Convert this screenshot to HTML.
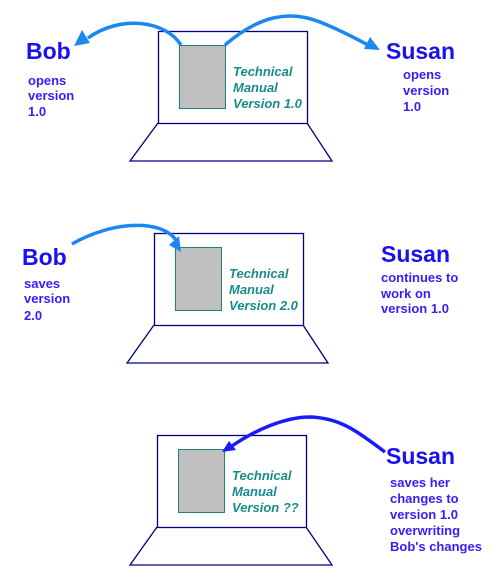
<!DOCTYPE html>
<html><head><meta charset="utf-8"><style>
html,body{margin:0;padding:0;background:#fff;}
svg{display:block;}
.big{font-family:"Liberation Sans",sans-serif;font-weight:bold;font-size:23px;fill:#1a10f0;}
.sm{font-family:"Liberation Sans",sans-serif;font-weight:bold;font-size:13px;fill:#3a1aff;}
.doc{font-family:"Liberation Sans",sans-serif;font-weight:bold;font-style:italic;font-size:13px;fill:#1a8a8a;}
</style></head><body>
<svg width="501" height="585" viewBox="0 0 501 585" xmlns="http://www.w3.org/2000/svg">
<g fill="none" stroke="#000080" stroke-width="1.3">
<rect x="158.5" y="31.5" width="149" height="92"/>
<polyline points="158,123 130,161 332,161 307,123"/>
<rect x="154.5" y="233.5" width="149" height="92"/>
<polyline points="154,325 127,363 328,363 303,325"/>
<rect x="157.5" y="435.5" width="149" height="92"/>
<polyline points="157,527 130,565 332,565 306,527"/>
</g>
<g fill="#c0c0c0" stroke="#1a8080" stroke-width="1">
<rect x="179.5" y="45.5" width="46" height="63"/>
<rect x="175.5" y="247.5" width="46" height="63"/>
<rect x="178.5" y="449.5" width="46" height="63"/>
</g>
<g class="doc">
<text x="233" y="76" class="doc">Technical</text>
<text x="233" y="92" class="doc">Manual</text>
<text x="233" y="108" class="doc">Version 1.0</text>
<text x="229" y="278" class="doc">Technical</text>
<text x="229" y="294" class="doc">Manual</text>
<text x="229" y="310" class="doc">Version 2.0</text>
<text x="232" y="480" class="doc">Technical</text>
<text x="232" y="496" class="doc">Manual</text>
<text x="232" y="512" class="doc">Version ??</text>
</g>
<g fill="none" stroke="#1a88f0" stroke-width="3.5">
<path d="M181,45 C165,20 120,15 88,38"/>
<path d="M225,45 C260,15 290,10 320,22 C340,30 355,38 368,45"/>
<path d="M72,244 C110,222 160,218 176,240"/>
</g>
<path d="M385,452 C355,430 340,418 310,417 C285,417 255,430 232,446" fill="none" stroke="#1a1aff" stroke-width="3.5"/>
<g fill="#1a88f0">
<polygon points="74,46 82,30 90,43"/>
<polygon points="380,50 364,49 370,37"/>
<polygon points="181,252 169,245 179,236"/>
</g>
<polygon points="222,452 229,441 236,450" fill="#1a1aff"/>
<text x="26" y="59" class="big">Bob</text>
<text x="28" y="85" class="sm">opens</text>
<text x="28" y="100" class="sm">version</text>
<text x="28" y="116" class="sm">1.0</text>
<text x="386" y="59" class="big">Susan</text>
<text x="403" y="79" class="sm">opens</text>
<text x="403" y="95" class="sm">version</text>
<text x="403" y="111" class="sm">1.0</text>
<text x="22" y="265" class="big">Bob</text>
<text x="24" y="288" class="sm">saves</text>
<text x="24" y="303" class="sm">version</text>
<text x="24" y="320" class="sm">2.0</text>
<text x="381" y="262" class="big">Susan</text>
<text x="381" y="282" class="sm">continues to</text>
<text x="381" y="298" class="sm">work on</text>
<text x="381" y="313" class="sm">version 1.0</text>
<text x="386" y="464" class="big">Susan</text>
<text x="390" y="487" class="sm">saves her</text>
<text x="390" y="503" class="sm">changes to</text>
<text x="390" y="519" class="sm">version 1.0</text>
<text x="390" y="535" class="sm">overwriting</text>
<text x="390" y="551" class="sm">Bob's changes</text>
</svg>
</body></html>
